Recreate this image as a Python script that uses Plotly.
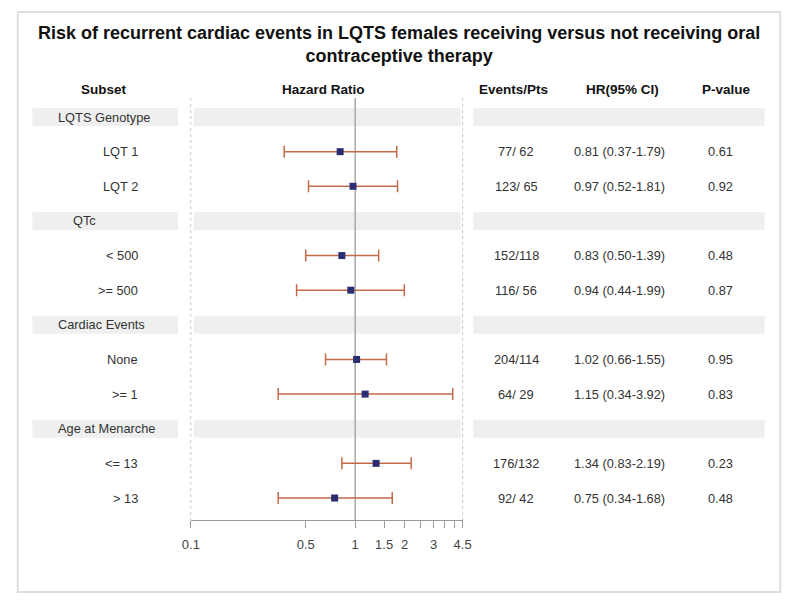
import plotly.graph_objects as go

# ---------------- data ----------------
subsets = ["LQTS Genotype", "LQT 1", "LQT 2",
           "QTc", "< 500", ">= 500",
           "Cardiac Events", "None", ">= 1",
           "Age at Menarche", "<= 13", "> 13"]
is_group = [True, False, False, True, False, False,
            True, False, False, True, False, False]
hr = [None, 0.81, 0.97, None, 0.83, 0.94, None, 1.02, 1.15, None, 1.34, 0.75]
ci_low = [None, 0.37, 0.52, None, 0.50, 0.44, None, 0.66, 0.34, None, 0.83, 0.34]
ci_high = [None, 1.79, 1.81, None, 1.39, 1.99, None, 1.55, 3.92, None, 2.19, 1.68]
events_pts = ["", "77/ 62", "123/ 65", "", "152/118", "116/ 56",
              "", "204/114", "64/ 29", "", "176/132", "92/ 42"]
p_values = ["", "0.61", "0.92", "", "0.48", "0.87", "", "0.95", "0.83", "", "0.23", "0.48"]

tick_vals = [0.1, 0.5, 1, 1.5, 2, 2.5, 3, 3.5, 4, 4.5]
tick_text = ["0.1", "0.5", "1", "1.5", "2", "", "3", "", "", "4.5"]

title_text = ("Risk of recurrent cardiac events in LQTS females receiving versus not receiving oral"
              "<br>contraceptive therapy")
headers = ["Subset", "Hazard Ratio", "Events/Pts", "HR(95% CI)", "P-value"]

# ---------------- layout constants ----------------
W, H = 800, 605
FONT = "Liberation Sans, Arial, sans-serif"
TXT = "#333333"
rows = list(range(len(subsets)))
y_top, y_bot = -0.549, 11.635
band_half = 0.26


def px(x):
    return x / W


def py(y):
    return 1 - y / H


fig = go.Figure()

# HR = 1 reference line
fig.add_trace(go.Scatter(x=[1, 1], y=[y_top, y_bot], mode="lines",
                         line=dict(color="#a8a8a8", width=1.5),
                         hoverinfo="skip", showlegend=False, cliponaxis=False))

# estimates with CI
pts_x, pts_y, err_p, err_m = [], [], [], []
for i in rows:
    if hr[i] is not None:
        pts_x.append(hr[i])
        pts_y.append(i)
        err_p.append(ci_high[i] - hr[i])
        err_m.append(hr[i] - ci_low[i])

fig.add_trace(go.Scatter(
    x=pts_x, y=pts_y, mode="markers",
    marker=dict(symbol="square", size=7, color="#2b2d72",
                line=dict(width=0)),
    error_x=dict(type="data", symmetric=False, array=err_p, arrayminus=err_m,
                 color="#c46a48", thickness=1.5, width=6),
    showlegend=False, cliponaxis=False))

shapes = []
annotations = []

# outer border
shapes.append(dict(type="rect", xref="paper", yref="paper",
                   x0=px(9), x1=px(789), y0=py(592), y1=py(12),
                   line=dict(color="#dedede", width=2), layer="below"))

# group bands
for i in rows:
    if is_group[i]:
        for (a, b) in [(24, 173), (189, 462), (475, 773)]:
            shapes.append(dict(type="rect", xref="paper", yref="y",
                               x0=px(a), x1=px(b),
                               y0=i - band_half, y1=i + band_half,
                               fillcolor="#efefef", line=dict(width=0),
                               layer="below"))

# dotted panel borders
for xv in [186, 464]:
    shapes.append(dict(type="line", xref="paper", yref="y",
                       x0=px(xv), x1=px(xv), y0=y_top, y1=y_bot,
                       line=dict(color="#c8c8c8", width=1, dash="dot"),
                       layer="below"))

# title
annotations.append(dict(text="<b>" + title_text + "</b>", xref="paper", yref="paper",
                        x=px(399), y=py(45), showarrow=False, xanchor="center",
                        yanchor="middle", align="center",
                        font=dict(family=FONT, size=18, color="#111111")))

# headers
for txt, xc in zip(headers, [97, 322, 516, 628, 734]):
    annotations.append(dict(text="<b>" + txt + "</b>", xref="paper", yref="paper",
                            x=px(xc), y=py(89), showarrow=False,
                            xanchor="center", yanchor="middle",
                            font=dict(family=FONT, size=13.5, color="#111111")))

group_x = {"QTc": 63}
for i in rows:
    if is_group[i]:
        annotations.append(dict(text=subsets[i], xref="paper", yref="y",
                                x=px(group_x.get(subsets[i], 48)), y=i,
                                showarrow=False, xanchor="left", yanchor="middle",
                                font=dict(family=FONT, size=12.8, color=TXT)))
    else:
        annotations.append(dict(text=subsets[i], xref="paper", yref="y",
                                x=px(134), y=i, showarrow=False,
                                xanchor="right", yanchor="middle",
                                font=dict(family=FONT, size=12.8, color=TXT)))
        ci_txt = f"{hr[i]:.2f} ({ci_low[i]:.2f}-{ci_high[i]:.2f})"
        for txt, xc in [(events_pts[i], 519), (ci_txt, 625), (p_values[i], 728)]:
            annotations.append(dict(text=txt, xref="paper", yref="y",
                                    x=px(xc), y=i, showarrow=False,
                                    xanchor="center", yanchor="middle",
                                    font=dict(family=FONT, size=12.8, color=TXT)))

fig.update_layout(
    width=W, height=H,
    margin=dict(l=0, r=0, t=0, b=0),
    paper_bgcolor="white", plot_bgcolor="rgba(0,0,0,0)",
    shapes=shapes, annotations=annotations,
    xaxis=dict(type="log", domain=[px(186), px(464)],
               range=[-1, 0.6532], tickmode="array",
               tickvals=tick_vals, ticktext=tick_text,
               showgrid=False, zeroline=False,
               showline=True, linecolor="#9a9a9a", linewidth=1,
               ticks="outside", ticklen=7, tickcolor="#9a9a9a", tickwidth=1,
               ticklabelstandoff=5,
               tickfont=dict(family=FONT, size=13, color="#444444"),
               fixedrange=True),
    yaxis=dict(range=[y_bot, y_top], domain=[py(520), py(98)],
               showgrid=False, zeroline=False, showticklabels=False,
               showline=False, ticks="", fixedrange=True),
)

fig.write_html("out.html",
               config={"displayModeBar": False},
               post_script="document.documentElement.style.margin='0px';"
                           "document.documentElement.style.padding='0px';"
                           "document.documentElement.style.overflow='hidden';"
                           "document.body.style.margin='0px';"
                           "document.body.style.padding='0px';"
                           "document.body.style.overflow='hidden';")
